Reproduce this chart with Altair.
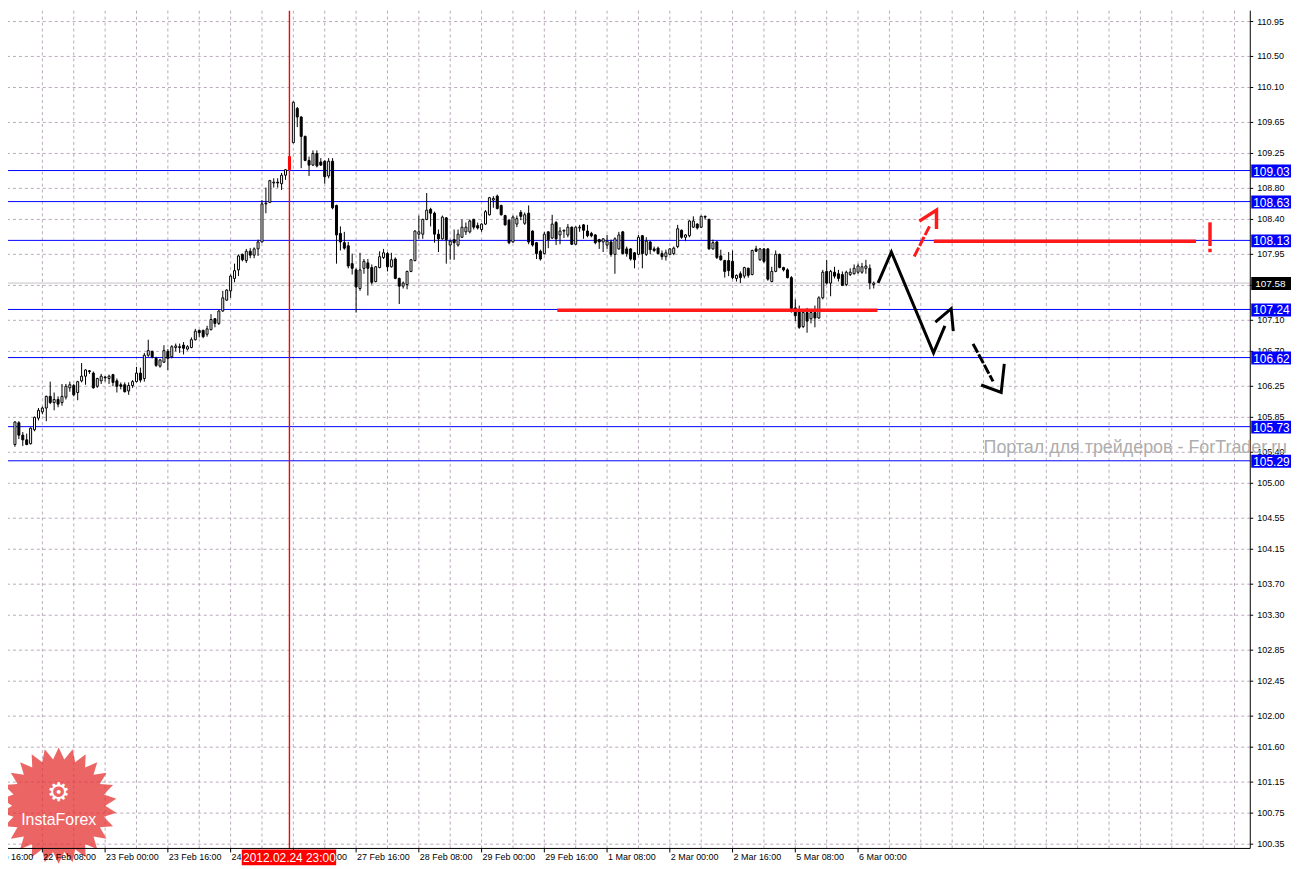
import altair as alt
import numpy as np
import pandas as pd

# ---------------- data (H1 bars, bar 0 = 22 Feb 2012 01:00) ----------------
opens = [105.50, 105.78, 105.62, 105.56, 105.51, 105.69, 105.84, 105.92, 105.97, 106.12,
         106.04, 106.08, 106.04, 106.11, 106.23, 106.26, 106.17, 106.32, 106.38, 106.45,
         106.42, 106.25, 106.32, 106.37, 106.35, 106.40, 106.32, 106.27, 106.27, 106.19,
         106.26, 106.31, 106.42, 106.35, 106.65, 106.70, 106.61, 106.51, 106.56, 106.70,
         106.63, 106.75, 106.76, 106.78, 106.73, 106.75, 106.85, 106.97, 106.97, 106.92,
         106.98, 107.12, 107.06, 107.22, 107.36, 107.48, 107.64, 107.75, 107.95, 107.87,
         107.99, 107.94, 108.02, 108.11, 108.60, 108.62, 108.87, 108.88, 108.86, 108.97,
         109.04, 109.39, 109.83, 109.72, 109.47, 109.16, 109.10, 109.25, 109.14, 109.15,
         108.96, 109.15, 108.58, 108.22, 108.10, 108.06, 107.83, 107.75, 107.51, 107.77,
         107.84, 107.78, 107.60, 107.78, 107.91, 107.96, 107.79, 107.89, 107.64, 107.54,
         107.56, 107.73, 107.87, 108.21, 108.21, 108.40, 108.53, 108.48, 108.21, 108.15,
         108.42, 108.07, 108.14, 108.07, 108.17, 108.24, 108.24, 108.40, 108.32, 108.27,
         108.34, 108.46, 108.65, 108.70, 108.58, 108.45, 108.39, 108.11, 108.34, 108.49,
         108.35, 108.48, 108.25, 108.10, 107.99, 107.96, 108.24, 108.16, 108.36, 108.20,
         108.25, 108.20, 108.30, 108.08, 108.29, 108.33, 108.25, 108.22, 108.20, 108.14,
         108.11, 108.07, 108.11, 107.95, 108.02, 108.24, 108.02, 108.02, 107.97, 107.95,
         108.19, 107.95, 108.11, 108.02, 108.03, 107.96, 107.92, 107.95, 107.96, 108.05,
         108.26, 108.17, 108.19, 108.30, 108.34, 108.30, 108.44, 108.40, 108.02, 108.11,
         107.93, 107.87, 107.87, 107.86, 107.64, 107.70, 107.67, 107.77, 107.69, 108.02,
         107.88, 108.02, 108.02, 107.60, 107.73, 107.95, 107.78, 107.75, 107.65, 107.26,
         107.22, 107.02, 107.20, 107.12, 107.20, 107.13, 107.39, 107.73, 107.58, 107.72,
         107.70, 107.69, 107.56, 107.69, 107.70, 107.72, 107.72, 107.77, 107.77, 107.56]
highs = [105.80, 105.80, 105.66, 105.64, 105.72, 105.86, 105.97, 105.99, 106.13, 106.31,
         106.17, 106.12, 106.28, 106.28, 106.31, 106.28, 106.32, 106.55, 106.47, 106.46,
         106.44, 106.36, 106.41, 106.38, 106.40, 106.41, 106.35, 106.30, 106.30, 106.30,
         106.33, 106.50, 106.49, 106.68, 106.85, 106.71, 106.63, 106.60, 106.78, 106.73,
         106.78, 106.80, 106.80, 106.82, 106.78, 106.88, 106.99, 106.98, 106.98, 107.03,
         107.18, 107.13, 107.23, 107.48, 107.50, 107.69, 107.83, 107.95, 107.96, 108.02,
         108.03, 108.04, 108.14, 108.65, 108.81, 108.91, 108.93, 108.93, 109.00, 109.05,
         109.23, 109.92, 109.85, 109.73, 109.48, 109.21, 109.29, 109.29, 109.19, 109.16,
         109.19, 109.19, 108.59, 108.31, 108.24, 108.11, 107.96, 107.77, 107.97, 107.89,
         107.89, 107.82, 107.80, 107.99, 108.02, 107.98, 107.97, 107.91, 107.65, 107.60,
         107.74, 107.89, 108.26, 108.45, 108.41, 108.74, 108.55, 108.50, 108.27, 108.45,
         108.43, 108.14, 108.27, 108.27, 108.40, 108.36, 108.40, 108.41, 108.36, 108.35,
         108.52, 108.69, 108.70, 108.72, 108.59, 108.46, 108.40, 108.45, 108.45, 108.52,
         108.49, 108.58, 108.26, 108.11, 108.01, 108.24, 108.25, 108.46, 108.38, 108.30,
         108.27, 108.34, 108.31, 108.31, 108.33, 108.34, 108.33, 108.24, 108.21, 108.15,
         108.16, 108.20, 108.14, 108.17, 108.24, 108.25, 108.05, 108.03, 107.98, 108.20,
         108.20, 108.17, 108.12, 108.05, 108.05, 108.00, 108.01, 108.03, 108.05, 108.33,
         108.27, 108.21, 108.39, 108.44, 108.35, 108.45, 108.45, 108.41, 108.14, 108.12,
         108.01, 107.88, 107.98, 108.00, 107.69, 107.73, 107.79, 107.78, 108.01, 108.06,
         108.03, 108.03, 108.03, 107.79, 108.00, 107.96, 107.79, 107.77, 107.67, 107.37,
         107.29, 107.22, 107.26, 107.21, 107.29, 107.41, 107.75, 107.88, 107.75, 107.79,
         107.75, 107.73, 107.74, 107.77, 107.82, 107.83, 107.84, 107.88, 107.82, 107.60]
lows = [105.47, 105.57, 105.48, 105.49, 105.50, 105.67, 105.81, 105.89, 105.80, 106.02,
        105.94, 105.98, 106.00, 106.08, 106.18, 106.12, 106.07, 106.30, 106.27, 106.41,
        106.22, 106.23, 106.28, 106.31, 106.28, 106.25, 106.17, 106.21, 106.17, 106.14,
        106.23, 106.30, 106.30, 106.31, 106.63, 106.61, 106.50, 106.49, 106.55, 106.46,
        106.61, 106.70, 106.68, 106.66, 106.71, 106.74, 106.84, 106.88, 106.87, 106.89,
        106.97, 107.01, 107.04, 107.21, 107.35, 107.39, 107.59, 107.67, 107.86, 107.84,
        107.90, 107.90, 107.93, 108.10, 108.48, 108.61, 108.81, 108.81, 108.78, 108.91,
        109.03, 109.38, 109.59, 109.06, 109.15, 108.96, 109.09, 109.07, 109.09, 108.86,
        108.93, 108.53, 107.83, 108.00, 108.01, 107.77, 107.69, 107.20, 107.48, 107.70,
        107.42, 107.56, 107.59, 107.77, 107.89, 107.73, 107.78, 107.63, 107.31, 107.51,
        107.50, 107.72, 107.86, 108.15, 108.15, 108.39, 108.31, 108.10, 107.98, 108.14,
        107.83, 107.88, 107.88, 108.05, 108.16, 108.20, 108.22, 108.27, 108.27, 108.24,
        108.33, 108.45, 108.55, 108.53, 108.45, 108.32, 108.08, 108.10, 108.30, 108.39,
        108.33, 108.08, 108.05, 107.89, 107.87, 107.95, 108.03, 108.15, 108.07, 108.08,
        108.16, 108.17, 108.07, 108.07, 108.24, 108.15, 108.17, 108.17, 108.08, 108.02,
        107.98, 108.02, 107.92, 107.70, 108.01, 107.95, 107.92, 107.87, 107.77, 107.94,
        107.77, 107.93, 107.95, 107.98, 107.95, 107.88, 107.87, 107.94, 107.94, 108.03,
        108.15, 108.12, 108.17, 108.29, 108.27, 108.29, 108.40, 108.01, 108.01, 107.89,
        107.87, 107.65, 107.67, 107.63, 107.60, 107.58, 107.64, 107.65, 107.68, 107.98,
        107.87, 107.84, 107.61, 107.59, 107.72, 107.77, 107.73, 107.64, 107.20, 107.09,
        106.99, 107.00, 106.94, 107.06, 107.01, 107.12, 107.37, 107.56, 107.41, 107.64,
        107.60, 107.54, 107.54, 107.67, 107.69, 107.70, 107.70, 107.70, 107.50, 107.51]
closes = [105.79, 105.62, 105.56, 105.50, 105.71, 105.85, 105.94, 105.97, 106.12, 106.04,
          106.08, 106.02, 106.12, 106.25, 106.27, 106.14, 106.31, 106.38, 106.46, 106.44,
          106.23, 106.35, 106.38, 106.36, 106.38, 106.30, 106.25, 106.25, 106.18, 106.26,
          106.31, 106.42, 106.33, 106.65, 106.71, 106.63, 106.52, 106.59, 106.71, 106.61,
          106.76, 106.77, 106.75, 106.74, 106.76, 106.85, 106.96, 106.94, 106.89, 106.99,
          107.11, 107.06, 107.22, 107.39, 107.49, 107.67, 107.74, 107.93, 107.88, 107.99,
          107.94, 108.02, 108.11, 108.60, 108.61, 108.90, 108.88, 108.87, 108.97, 109.04,
          109.21, 109.91, 109.72, 109.47, 109.16, 109.10, 109.25, 109.09, 109.10, 108.95,
          109.15, 108.55, 108.20, 108.11, 108.03, 107.80, 107.77, 107.53, 107.75, 107.86,
          107.77, 107.59, 107.79, 107.92, 107.97, 107.79, 107.88, 107.64, 107.54, 107.58,
          107.73, 107.88, 108.25, 108.24, 108.40, 108.52, 108.48, 108.21, 108.15, 108.43,
          108.14, 108.12, 108.10, 108.21, 108.30, 108.30, 108.38, 108.30, 108.29, 108.34,
          108.50, 108.68, 108.67, 108.54, 108.46, 108.33, 108.10, 108.43, 108.41, 108.44,
          108.46, 108.11, 108.07, 107.96, 107.89, 108.21, 108.14, 108.34, 108.15, 108.25,
          108.26, 108.30, 108.08, 108.30, 108.30, 108.26, 108.19, 108.19, 108.10, 108.11,
          108.15, 108.12, 107.95, 108.15, 108.20, 107.96, 107.96, 107.89, 107.88, 108.17,
          107.96, 108.12, 108.01, 108.00, 107.96, 107.92, 107.97, 108.02, 108.03, 108.28,
          108.17, 108.20, 108.38, 108.38, 108.29, 108.44, 108.43, 108.02, 108.10, 107.91,
          107.88, 107.73, 107.74, 107.65, 107.68, 107.65, 107.78, 107.68, 108.00, 107.99,
          108.02, 107.86, 107.63, 107.73, 107.95, 107.78, 107.75, 107.65, 107.25, 107.16,
          107.01, 107.20, 107.09, 107.20, 107.13, 107.39, 107.72, 107.58, 107.73, 107.67,
          107.64, 107.55, 107.72, 107.72, 107.77, 107.80, 107.79, 107.80, 107.58, 107.58]

marked_bar = 70
marked_label = "2012.02.24 23:00"

x_tick_idx = [-9, 7, 23, 39, 55, 71, 87, 103, 119, 135, 151, 167, 183, 199, 215]
x_tick_lab = ["21 Feb 16:00", "22 Feb 08:00", "23 Feb 00:00", "23 Feb 16:00", "24 Feb 08:00",
              "27 Feb 00:00", "27 Feb 16:00", "28 Feb 08:00", "29 Feb 00:00", "29 Feb 16:00",
              "1 Mar 08:00", "2 Mar 00:00", "2 Mar 16:00", "5 Mar 08:00", "6 Mar 00:00"]
grid_idx = list(range(7, 314, 8))

y_ticks = [110.95, 110.50, 110.10, 109.65, 109.25, 108.80, 108.40, 107.95, 107.55, 107.10,
           106.70, 106.25, 105.85, 105.40, 105.00, 104.55, 104.15, 103.70, 103.30, 102.85,
           102.45, 102.00, 101.60, 101.15, 100.75, 100.35]

levels = [109.03, 108.63, 108.13, 107.24, 106.62, 105.73, 105.29]
bid = [107.58]

# hand-drawn annotations (bar index, price)
ann_group = ["b1"] * 4 + ["b2"] * 3 + ["b3"] * 2 + ["b4"] * 3 + ["r1"] * 2 + ["r2"] * 3 + \
            ["r3"] * 2 + ["r4"] * 2 + ["r5"] * 2
ann_x = [220.25, 223.5, 234.25, 237.0,
         235.0, 238.75, 239.25,
         244.5, 249.25,
         246.75, 251.5, 252.25,
         229.5, 233.5,
         231.0, 235.0, 235.0,
         234.75, 300.75,
         304.75, 304.75,
         138.75, 219.5]
ann_y = [107.60, 107.98, 106.68, 107.01,
         107.09, 107.25, 106.98,
         106.78, 106.33,
         106.26, 106.17, 106.52,
         107.94, 108.34,
         108.39, 108.52, 108.30,
         108.12, 108.12,
         108.34, 108.08,
         107.23, 107.23]
excl_x = [304.75]
excl_y = [108.00]

watermark = ["Портал для трейдеров - ForTrader.ru"]
watermark_x = [247.0]
watermark_y = [105.45]

logo_text = ["InstaForex"]

# ---------------- chart ----------------
W, H = 1250, 843
XDOM = [-0.5, 313.75]
YDOM = [100.295, 111.09]
GRID = "#b9a9bb"
FONT = "Liberation Sans"

xs = alt.Scale(domain=XDOM, nice=False, zero=False)
ys = alt.Scale(domain=YDOM, nice=False, zero=False)


def X(f):
    return alt.X(f, scale=xs, axis=None)


def Y(f):
    return alt.Y(f, scale=ys, axis=None)


candles = pd.DataFrame({"i": np.arange(len(opens)), "o": opens, "h": highs, "l": lows, "c": closes})
candles["kind"] = np.where(candles["c"] >= candles["o"], "bull", "bear")
candles.loc[candles["i"] == marked_bar, "kind"] = "mark"
fill_scale = alt.Scale(domain=["bull", "bear", "mark"], range=["#ffffff", "#000000", "#ff0000"])
edge_scale = alt.Scale(domain=["bull", "bear", "mark"], range=["#000000", "#000000", "#ff0000"])

one = pd.DataFrame({"k": [0]})

# ---- grid ----
vgrid = alt.Chart(pd.DataFrame({"g": grid_idx})).mark_rule(
    color=GRID, strokeDash=[3, 3], strokeWidth=1).encode(x=X("g:Q"))
ytk = pd.DataFrame({"v": y_ticks, "t": [f"{v:.2f}" for v in y_ticks]})
hgrid = alt.Chart(ytk).mark_rule(color=GRID, strokeDash=[3, 3], strokeWidth=1).encode(y=Y("v:Q"))

# ---- price axis (right) ----
y_dom = alt.Chart(one).mark_rule(color="black", strokeWidth=1).encode(
    x=alt.value(W), y=alt.value(0), y2=alt.value(H))
y_tick = alt.Chart(ytk).mark_rule(color="black", strokeWidth=1).encode(
    x=alt.value(W), x2=alt.value(W + 3), y=Y("v:Q"))
y_lab = alt.Chart(ytk).mark_text(align="left", baseline="middle", fontSize=9, font=FONT,
                                 color="black").encode(
    x=alt.value(W + 7), y=Y("v:Q"), text="t:N")

# ---- time axis (bottom) ----
xtk = pd.DataFrame({"i": x_tick_idx, "t": x_tick_lab})
x_dom = alt.Chart(one).mark_rule(color="black", strokeWidth=1).encode(
    x=alt.value(0), x2=alt.value(W), y=alt.value(H))
x_tick = alt.Chart(xtk).mark_rule(color="black", strokeWidth=1).encode(
    x=X("i:Q"), y=alt.value(H), y2=alt.value(H + 4))
x_lab = alt.Chart(xtk).mark_text(align="left", baseline="top", fontSize=9, font=FONT,
                                 color="black", dx=1).encode(
    x=X("i:Q"), y=alt.value(H + 5), text="t:N")

# ---- levels ----
bid_df = pd.DataFrame({"v": bid, "t": [f"{v:.2f}" for v in bid]})
bid_rule = alt.Chart(bid_df).mark_rule(color="#c4c4c4", strokeWidth=1).encode(y=Y("v:Q"))
lv_df = pd.DataFrame({"v": levels, "t": [f"{v:.2f}" for v in levels]})
lv_rules = alt.Chart(lv_df).mark_rule(color="#0000ff", strokeWidth=1).encode(y=Y("v:Q"))

# ---- candles ----
wicks = alt.Chart(candles).mark_rule(strokeWidth=1).encode(
    x=X("i:Q"), y=Y("l:Q"), y2="h:Q",
    color=alt.Color("kind:N", scale=edge_scale, legend=None),
)
bodies = alt.Chart(candles).mark_bar(size=2, strokeWidth=1).encode(
    x=X("i:Q"), y=Y("o:Q"), y2="c:Q",
    fill=alt.Fill("kind:N", scale=fill_scale, legend=None),
    stroke=alt.Stroke("kind:N", scale=edge_scale, legend=None),
)

mk_df = pd.DataFrame({"i": [marked_bar], "t": [marked_label]})
mk_rule = alt.Chart(mk_df).mark_rule(color="#ff0000", strokeWidth=1.4).encode(x=X("i:Q"))
mk_box = alt.Chart(mk_df).mark_rect(color="#ff0000", xOffset=-48, x2Offset=47).encode(
    x=X("i:Q"), x2="i:Q", y=alt.value(H + 1), y2=alt.value(H + 17))
mk_txt = alt.Chart(mk_df).mark_text(color="white", fontSize=12, font=FONT, baseline="middle").encode(
    x=X("i:Q"), y=alt.value(H + 9.5), text="t:N")

# ---- annotations ----
ann = pd.DataFrame({"g": ann_group, "x": ann_x, "y": ann_y})
ann["ord"] = ann.groupby("g").cumcount()


def ann_layer(groups, color, dashed, width):
    kw = dict(color=color, strokeWidth=width, strokeCap="square")
    if dashed:
        kw["strokeDash"] = [7, 5]
    return alt.Chart(ann).transform_filter(
        alt.FieldOneOfPredicate(field="g", oneOf=groups)
    ).mark_line(**kw).encode(x=X("x:Q"), y=Y("y:Q"), detail="g:N", order="ord:Q")


ann_black = ann_layer(["b1", "b2", "b4"], "#000000", False, 3)
ann_black_d = ann_layer(["b3"], "#000000", True, 3)
ann_red = ann_layer(["r2", "r3", "r4", "r5"], "#ff1a1a", False, 3.5)
ann_red_d = ann_layer(["r1"], "#ff1a1a", True, 3)
excl = alt.Chart(pd.DataFrame({"x": excl_x, "y": excl_y})).mark_point(
    shape="square", filled=True, size=12, color="#ff1a1a", opacity=1).encode(
    x=X("x:Q"), y=Y("y:Q"))

# ---- price boxes ----
lv_box = alt.Chart(lv_df).mark_rect(color="#0000ff", yOffset=-6, y2Offset=7).encode(
    x=alt.value(W + 1), x2=alt.value(W + 41), y=Y("v:Q"), y2="v:Q")
lv_txt = alt.Chart(lv_df).mark_text(align="left", baseline="middle", color="white",
                                     fontSize=12, font=FONT, dy=1).encode(
    x=alt.value(W + 3), y=Y("v:Q"), text="t:N")
bid_box = alt.Chart(bid_df).mark_rect(color="#000000", yOffset=-6, y2Offset=7).encode(
    x=alt.value(W + 1), x2=alt.value(W + 41), y=Y("v:Q"), y2="v:Q")
bid_txt = alt.Chart(bid_df).mark_text(align="left", baseline="middle", color="white",
                                      fontSize=10, font=FONT, dy=1).encode(
    x=alt.value(W + 5), y=Y("v:Q"), text="t:N")

wm = alt.Chart(pd.DataFrame({"x": watermark_x, "y": watermark_y, "t": watermark})).mark_text(
    align="left", baseline="middle", fontSize=18, font=FONT, color="#adadad").encode(
    x=X("x:Q"), y=Y("y:Q"), text="t:N")

# ---- logo (decorative sunburst) ----
n_sp = 26
pts = []
for k in range(2 * n_sp):
    r = 1.0 if k % 2 == 0 else 0.80
    a = np.pi * k / n_sp - np.pi / 2
    pts.append(f"{r * np.cos(a):.4f},{r * np.sin(a):.4f}")
star_path = "M" + " L".join(pts) + " Z"
logo_df = pd.DataFrame({"t": logo_text})
logo_star = alt.Chart(logo_df).mark_point(
    shape=star_path, size=117 ** 2, filled=True, color="#e42a2a", opacity=0.72, strokeWidth=0
).encode(x=alt.value(51), y=alt.value(800))
logo_icon = alt.Chart(logo_df).mark_text(
    text="⚙", font="DejaVu Sans", fontSize=26, color="white", baseline="middle"
).encode(x=alt.value(51), y=alt.value(787))
logo_txt = alt.Chart(logo_df).mark_text(
    font=FONT, fontSize=16, color="white", baseline="middle"
).encode(x=alt.value(51), y=alt.value(814), text="t:N")

chart = alt.layer(
    vgrid, hgrid, bid_rule, lv_rules, wicks, bodies, mk_rule,
    ann_red, ann_red_d, ann_black, ann_black_d, excl,
    logo_star, logo_icon, logo_txt,
    y_dom, y_tick, y_lab, x_dom, x_tick, x_lab,
    lv_box, lv_txt, bid_box, bid_txt, mk_box, mk_txt,
    wm,
).properties(
    width=W, height=H,
    padding={"left": 0, "top": 0, "right": 43, "bottom": 18},
    autosize=alt.AutoSizeParams(type="none"),
    background="white",
).configure(font=FONT).configure_view(stroke=None)

chart.save("out.html", embed_options={"renderer": "svg", "actions": False})
